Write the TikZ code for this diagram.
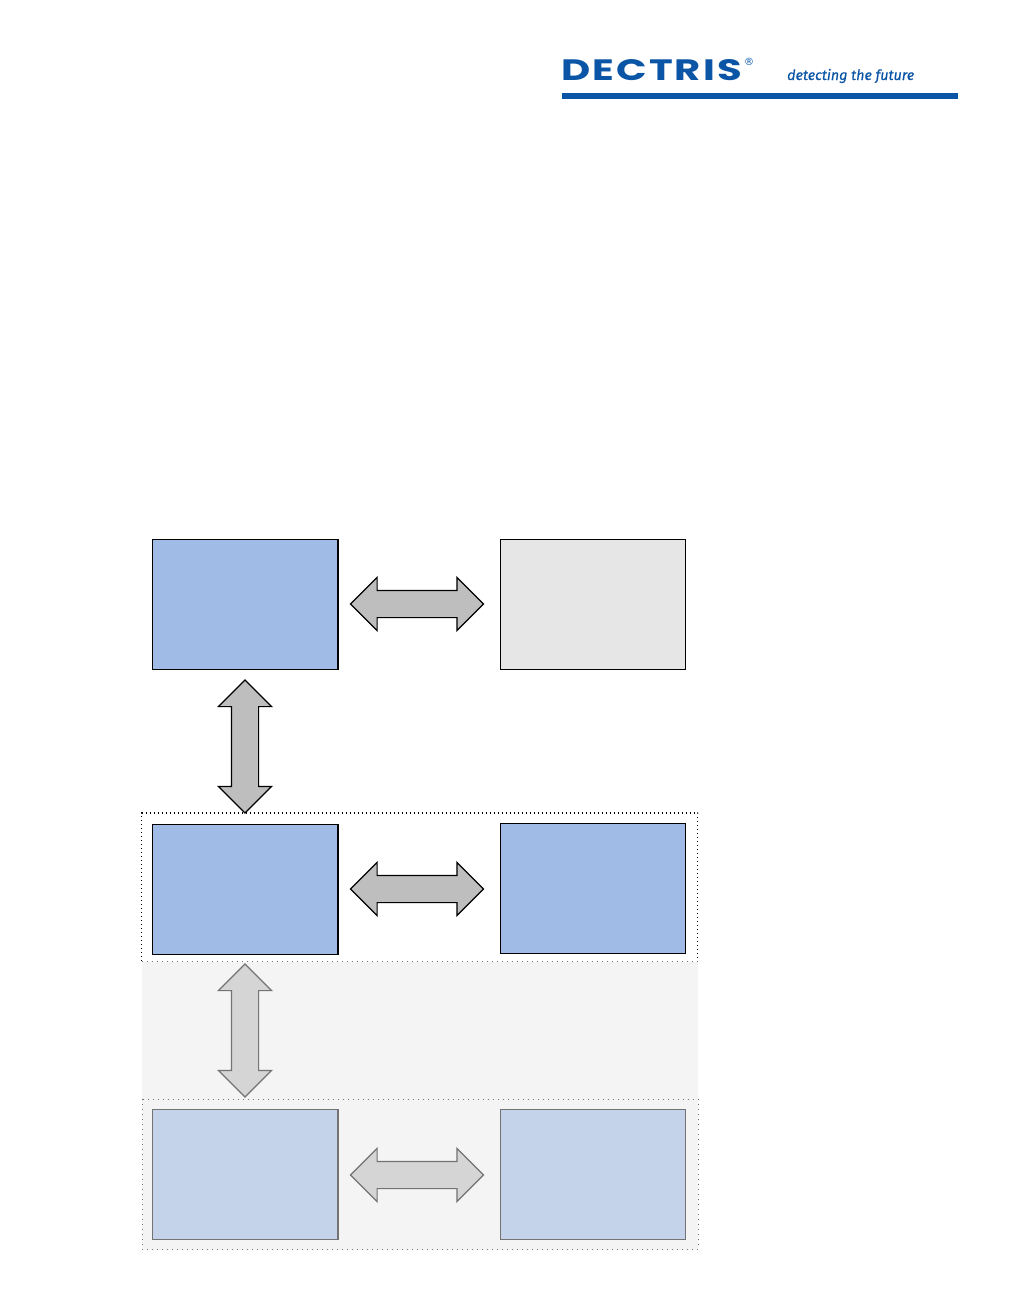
\documentclass[tikz,border=0pt]{standalone}
\usepackage{fontspec}
\usepackage{graphicx}
\setmainfont{Fira Sans}[ItalicFeatures={FakeBold=0.5}]
\newfontfamily\logofont[LetterSpace=5]{Poppins}
\newfontfamily\regfont{DejaVu Sans}
\usetikzlibrary{shapes.arrows,positioning}
\definecolor{brand}{HTML}{0A55A5}
\definecolor{solidblue}{HTML}{A0BCE6}
\definecolor{paleblue}{HTML}{C5D3EA}
\definecolor{lightbox}{HTML}{E6E6E6}
\definecolor{arrowdark}{HTML}{BEBEBE}
\definecolor{arrowpale}{HTML}{D5D5D5}
\definecolor{fadeline}{HTML}{737373}
\definecolor{fadebg}{HTML}{F4F4F4}
\tikzset{
  x=1pt,y=-1pt,
  panel/.style={draw=black,line width=1pt,minimum width=185.5pt,minimum height=130pt,inner sep=0pt,outer sep=0pt,anchor=north west},
  rightcol/.style={minimum width=185pt},
  fadedpanel/.style={panel,draw=fadeline,fill=paleblue},
  bluepanel/.style={panel,fill=solidblue},
  greypanel/.style={panel,fill=lightbox},
  blockarrow/.style={double arrow,draw=black,fill=arrowdark,line width=1.2pt,inner xsep=0pt,inner ysep=13pt,
     minimum height=133pt,double arrow head extend=13pt,double arrow tip angle=90,double arrow head indent=0pt,text width=0pt,outer sep=0pt},
  fadedarrow/.style={blockarrow,draw=fadeline,fill=arrowpale},
  zone/.style={anchor=north west,inner sep=0pt,outer sep=0pt,minimum width=556pt},
  strongdots/.style={line width=1.1pt,dash pattern=on 1.2pt off 2.8pt},
  faintdots/.style={line width=.8pt,draw=fadeline,dash pattern=on 1pt off 4pt},
  heavyedge/.style={line width=1.6pt},
}
\begin{document}
\begin{tikzpicture}
\useasboundingbox[fill=white] (0,0) rectangle (1012,1304);
% logo
\node[anchor=north west,inner sep=0pt,text=brand] (logotext) at (561.5,59) {\resizebox{180pt}{21pt}{\logofont\bfseries DECTRIS}};
\node[anchor=center,inner sep=0pt,text=brand,font=\fontsize{10}{10}\selectfont\regfont] (reg) at (749,62) {®};
\node[anchor=base west,inner sep=0pt,text=brand,font=\fontsize{14.5}{15}\selectfont\itshape] (tag) at (787,80) {\resizebox{127pt}{!}{detecting the future}};
\fill[brand] (562,92.5) rectangle (957.5,99);
% zones
\fill[fadebg] (142,962) rectangle (698,1250);
\node[zone,minimum height=148pt] (upperzone) at (141.5,813) {};
\draw[strongdots] (upperzone.south west) -- (upperzone.north west) -- (upperzone.north east) -- (upperzone.south east);
\draw[faintdots] (upperzone.south west) -- (upperzone.south east);
\node[zone,minimum height=150pt] (lowerzone) at (142,1099) {};
\draw[faintdots] (lowerzone.north west) rectangle (lowerzone.south east);
% panels
\node[bluepanel] (a) at (152.5,539.5) {};
\node[greypanel,rightcol] (b) at (500.5,539.5) {};
\node[bluepanel] (c) at (152.5,824) {};
\node[bluepanel,rightcol] (d) at (500.5,823.5) {};
\node[fadedpanel] (e) at (152.5,1109.5) {};
\node[fadedpanel,rightcol] (f) at (500.5,1109.5) {};
\draw[heavyedge] (a.north east) -- (a.south east);
\draw[heavyedge] (c.north east) -- (c.south east);
\draw[heavyedge] (d.north west) -- (d.north east);
\draw[heavyedge,fadeline] (e.north east) -- (e.south east);
% arrows
\node[blockarrow] (ab) at (417,604) {};
\node[blockarrow,rotate=90] (ac) at (245,746.5) {};
\node[blockarrow] (cd) at (417,889) {};
\node[fadedarrow,rotate=90] (ce) at (245,1030.5) {};
\node[fadedarrow] (ef) at (417,1175) {};
\end{tikzpicture}
\end{document}
